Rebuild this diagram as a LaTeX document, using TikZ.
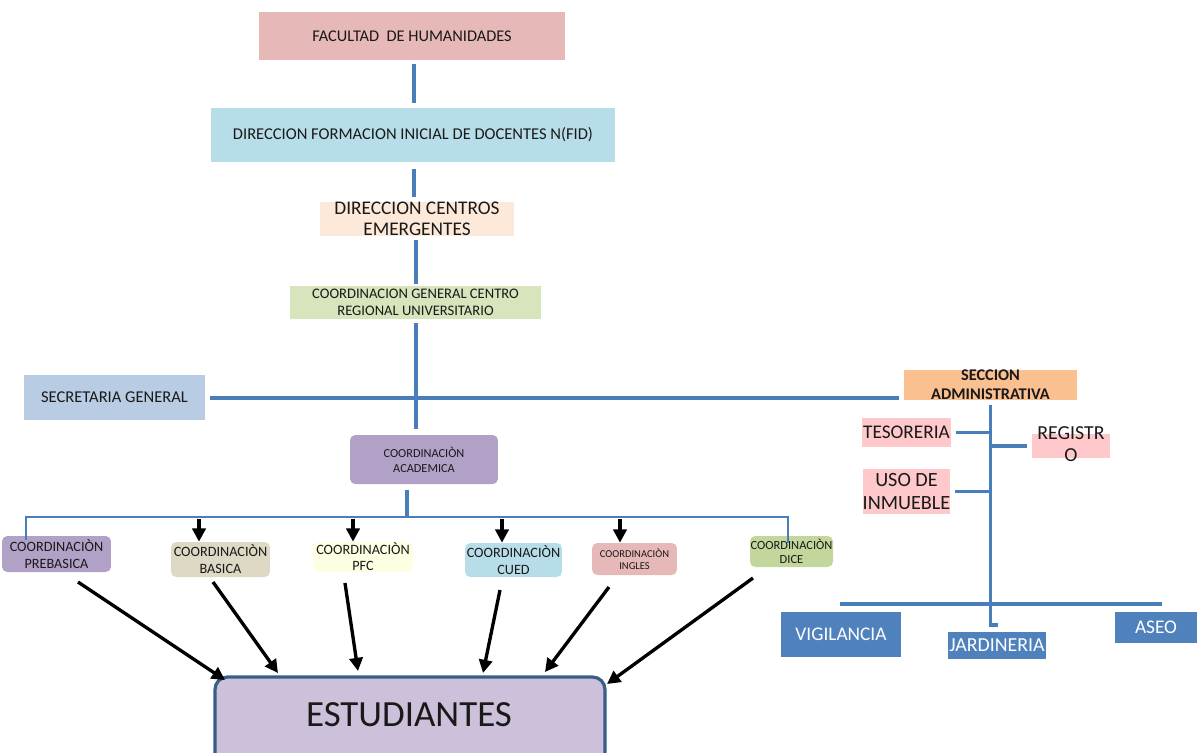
\documentclass[tikz,border=0pt]{standalone}
\usepackage{fontspec}
\setmainfont{Carlito}
\usetikzlibrary{arrows.meta}

\definecolor{lineblue}{RGB}{74,126,187}
\definecolor{estborder}{RGB}{56,93,138}
\definecolor{facpink}{HTML}{E6B8B7}
\definecolor{fidblue}{HTML}{B7DEE8}
\definecolor{dcepeach}{HTML}{FDE9D9}
\definecolor{cgcgreen}{HTML}{D7E4BC}
\definecolor{secblue}{HTML}{B8CCE4}
\definecolor{acadpurple}{HTML}{B2A1C7}
\definecolor{admorange}{HTML}{FAC090}
\definecolor{tespink}{HTML}{FFC9CC}
\definecolor{vigblue}{HTML}{4F81BD}
\definecolor{bascream}{HTML}{DDD9C4}
\definecolor{pfcyellow}{HTML}{FEFEE2}
\definecolor{dicegreen}{HTML}{C3D69B}
\definecolor{estpurple}{HTML}{CCC0DA}

\tikzset{
  box/.style={inner sep=0pt, align=center, text=black!90},
  rbox/.style={box, rounded corners=3pt},
  link/.style={draw=lineblue, line width=2.2pt},
  down/.style={-{Triangle[length=7.5pt,width=7.5pt]}, line width=1.9pt},
}

\begin{document}
\begin{tikzpicture}[x=0.02cm,y=-0.02cm]
\useasboundingbox (0,0) rectangle (1197,752);
\clip (0,0) rectangle (1197,752);

% upper chain
\node[box, fill=facpink, minimum width=6.14cm, minimum height=0.96cm, font=\fontsize{9.3}{11}\selectfont] (fac) at (412,36) {FACULTAD \ DE HUMANIDADES};
\node[box, fill=fidblue, minimum width=8.08cm, minimum height=1.08cm, font=\fontsize{9.4}{11}\selectfont] (fid) at (413,135) {DIRECCION FORMACION INICIAL DE DOCENTES N(FID)};
\node[box, fill=dcepeach, minimum width=3.88cm, minimum height=0.68cm, font=\fontsize{11}{12}\selectfont] (dce) at (417,219) {DIRECCION CENTROS\\EMERGENTES};
\node[box, fill=cgcgreen, minimum width=5.02cm, minimum height=0.66cm, font=\fontsize{8.3}{9.6}\selectfont] (cgc) at (415.5,302.5) {COORDINACION GENERAL CENTRO\\REGIONAL UNIVERSITARIO};
\node[box, fill=secblue, minimum width=3.62cm, minimum height=0.9cm, font=\fontsize{9.4}{10}\selectfont] (sec) at (114.5,397.5) {SECRETARIA GENERAL};
\node[rbox, fill=acadpurple, minimum width=2.96cm, minimum height=0.98cm, font=\fontsize{7}{8.5}\selectfont] (acad) at (424,459.5) {COORDINACIÒN\\ACADEMICA};

% administrative section
\node[box, fill=admorange, minimum width=3.46cm, minimum height=0.56cm, font=\bfseries\fontsize{9.3}{10.8}\selectfont] (adm) at (990.5,385) {SECCION\\ADMINISTRATIVA};
\node[box, fill=tespink, minimum width=1.78cm, minimum height=0.58cm, font=\fontsize{11}{12}\selectfont] (tes) at (906.5,432.5) {TESORERIA};
\node[box, fill=tespink, minimum width=1.56cm, minimum height=0.48cm] (reg) at (1071,446) {};
\node[box, font=\fontsize{11.3}{12.5}\selectfont] (regtxt) at (1071,444) {REGISTR\\O};
\node[box, fill=tespink, minimum width=1.74cm, minimum height=0.9cm, font=\fontsize{11.5}{13}\selectfont] (uso) at (906.5,491.5) {USO DE\\INMUEBLE};
\node[box, fill=vigblue, text=white, minimum width=2.4cm, minimum height=0.9cm, font=\fontsize{11}{11}\selectfont] (vig) at (841,634.5) {VIGILANCIA};
\node[box, fill=vigblue, text=white, minimum width=1.96cm, minimum height=0.54cm, font=\fontsize{11.3}{11}\selectfont] (jar) at (997,645.5) {JARDINERIA};
\node[box, fill=vigblue, text=white, minimum width=1.64cm, minimum height=0.62cm, font=\fontsize{11}{11}\selectfont] (aseo) at (1156,627.5) {ASEO};

% coordinations
\node[rbox, fill=acadpurple, minimum width=2.18cm, minimum height=0.72cm, font=\fontsize{8.1}{9.6}\selectfont] (pre) at (56.5,554) {COORDINACIÒN\\PREBASICA};
\node[rbox, fill=bascream, minimum width=1.98cm, minimum height=0.7cm, font=\fontsize{8.1}{9.6}\selectfont] (bas) at (220.5,559.5) {COORDINACIÒN\\BASICA};
\node[rbox, fill=pfcyellow, minimum width=2cm, minimum height=0.6cm, font=\fontsize{8.1}{9.2}\selectfont] (pfc) at (363,557) {COORDINACIÒN\\PFC};
\node[rbox, fill=fidblue, minimum width=1.94cm, minimum height=0.68cm, font=\fontsize{8.1}{9.6}\selectfont] (cued) at (513.5,560) {COORDINACIÒN\\CUED};
\node[rbox, fill=facpink, minimum width=1.7cm, minimum height=0.64cm, font=\fontsize{6}{6.8}\selectfont] (ing) at (634.5,559) {COORDINACIÒN\\INGLES};
\node[rbox, fill=dicegreen, minimum width=1.66cm, minimum height=0.62cm, font=\fontsize{7.1}{8}\selectfont] (dice) at (791.5,551.5) {COORDINACIÒN\\DICE};

\node[box, fill=estpurple, draw=estborder, line width=1.8pt, rounded corners=7pt, minimum width=7.8cm, minimum height=1.8cm] (est) at (410,722) {};
\node[box, font=\fontsize{21}{24}\selectfont] (esttxt) at (409,715) {ESTUDIANTES};

% blue lines
\draw[link, shorten <=2pt, shorten >=2.5pt] (fac.south -| 414,0) -- (fid.north -| 414,0);
\draw[link, shorten <=4pt, shorten >=2.5pt] (fid.south -| 414,0) -- (dce.north -| 414,0);
\draw[link, shorten <=2pt, shorten >=1pt] (dce.south -| 416,0) -- (cgc.north -| 416,0);
\draw[link, shorten <=2pt, shorten >=3pt] (cgc.south -| 416,0) -- (acad.north -| 416,0);
\draw[link, shorten <=2.5pt, shorten >=2.5pt] (sec.east |- 0,398) -- (adm.west |- 0,398);

\coordinate (busL) at (26,517);
\coordinate (busR) at (788,517);
\coordinate (preIn) at (26,540);
\coordinate (diceIn) at (788,543);
\draw[link, shorten <=3pt] (acad.south -| 407,0) -- (busL -| 407,0);
\draw[link, line width=1.6pt] (preIn) -- (busL) -- (busR) -- (diceIn);

\draw[link, shorten <=2.5pt] (adm.south) -- (adm.south |- 0,625) -- ++(7,0);
\draw[link, shorten <=2.5pt] (tes.east) -- (tes.east -| adm.south);
\draw[link, shorten <=2.5pt] (reg.west) -- (reg.west -| adm.south);
\draw[link, shorten <=2.5pt] (uso.east) -- (uso.east -| adm.south);
\coordinate (hL) at (840,604);
\coordinate (hR) at (1162,604);
\draw[link] (hL) -- (hR);

% black arrows
\coordinate (aBas) at (199,519);
\coordinate (aPfc) at (353,519);
\coordinate (aCued) at (502,519);
\coordinate (aIng) at (620,519);
\draw[down] (aBas) -- (aBas |- bas.north);
\draw[down] (aPfc) -- (aPfc |- pfc.north);
\draw[down] (aCued) -- (aCued |- cued.north);
\draw[down] (aIng) -- (aIng |- ing.north);

\coordinate (s1) at (78,582);   \coordinate (t1) at (225,680);
\coordinate (s2) at (213,582);  \coordinate (t2) at (278,673);
\coordinate (s3) at (345,583);  \coordinate (t3) at (358,671);
\coordinate (s4) at (500,590);  \coordinate (t4) at (483,673);
\coordinate (s5) at (609,587);  \coordinate (t5) at (545,672);
\coordinate (s6) at (753,578);  \coordinate (t6) at (607,684);
\draw[down] (s1) -- (t1);
\draw[down] (s2) -- (t2);
\draw[down] (s3) -- (t3);
\draw[down] (s4) -- (t4);
\draw[down] (s5) -- (t5);
\draw[down] (s6) -- (t6);
\end{tikzpicture}
\end{document}
